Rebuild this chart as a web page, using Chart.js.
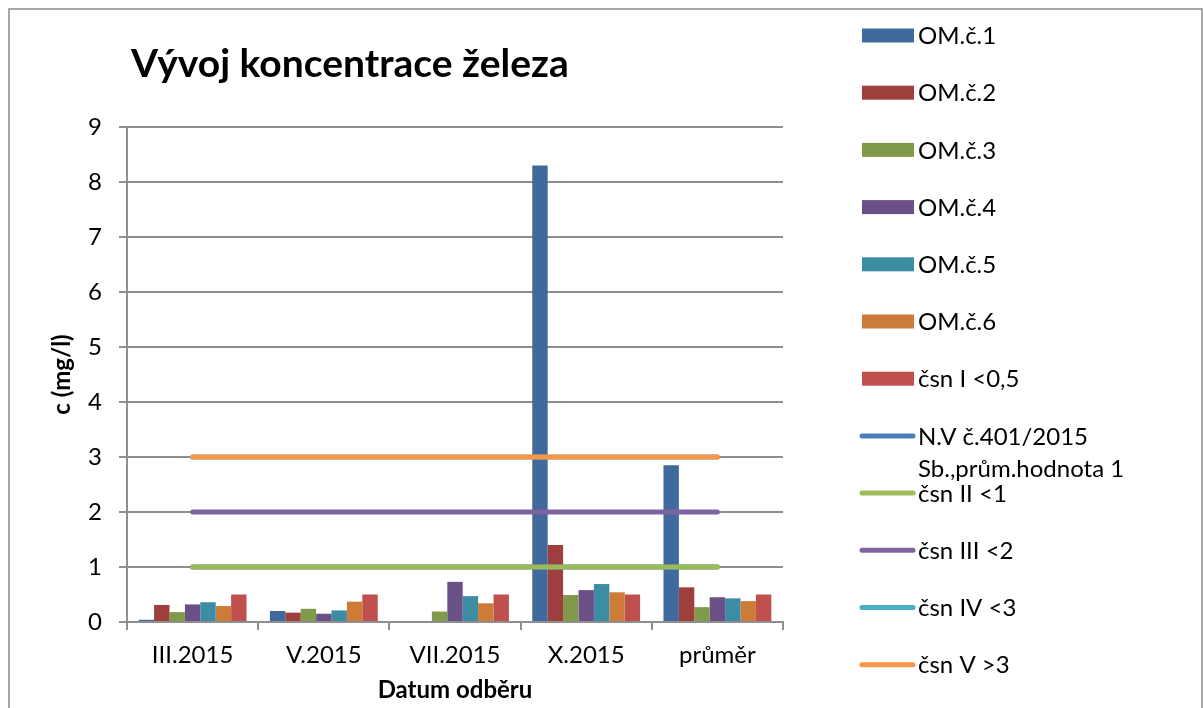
<!DOCTYPE html>
<html>
<head>
<meta charset="utf-8">
<script src="https://cdn.jsdelivr.net/npm/chart.js@4/dist/chart.umd.min.js"></script>
<style>
  html, body { margin: 0; padding: 0; background: #fff; }
  #wrap { width: 1203px; height: 708px; position: relative; }
</style>
</head>
<body>
<div id="wrap"><canvas id="myChart"></canvas></div>
<script>
// data
const categories = ['III.2015', 'V.2015', 'VII.2015', 'X.2015', 'průměr'];
const om1 = [0.04, 0.2, null, 8.3, 2.85];
const om2 = [0.31, 0.17, null, 1.4, 0.63];
const om3 = [0.18, 0.24, 0.19, 0.49, 0.27];
const om4 = [0.32, 0.15, 0.73, 0.58, 0.45];
const om5 = [0.36, 0.21, 0.47, 0.69, 0.43];
const om6 = [0.29, 0.37, 0.34, 0.54, 0.38];
const csnI = [0.5, 0.5, 0.5, 0.5, 0.5];
const nv401 = [1, 1, 1, 1, 1];
const csnII = [1, 1, 1, 1, 1];
const csnIII = [2, 2, 2, 2, 2];
const csnIV = [3, 3, 3, 3, 3];
const csnV = [3, 3, 3, 3, 3];
const yTicks = [0, 1, 2, 3, 4, 5, 6, 7, 8, 9];

const barNames = ['OM.č.1', 'OM.č.2', 'OM.č.3', 'OM.č.4', 'OM.č.5', 'OM.č.6', 'čsn I <0,5'];
const barColors = ['#3F6A9B', '#9E3F3D', '#7F9A48', '#6A5087', '#3C8DA4', '#CC7B38', '#C0504D'];
const barData = [om1, om2, om3, om4, om5, om6, csnI];

const lineNames = ['N.V č.401/2015 Sb.,prům.hodnota 1', 'čsn II <1', 'čsn III <2', 'čsn IV <3', 'čsn V >3'];
const lineColors = ['#4A7EBB', '#9BBB59', '#7F63A1', '#4BACC6', '#F79646'];
const lineData = [nv401, csnII, csnIII, csnIV, csnV];
const lineOrder = [2, 1, 1, 2, 1];

const FONT = 'Lato';
const GRID = '#8E8E8E';

let datasets = [];
for (let i = 0; i < barNames.length; i++) {
	datasets.push({
		type: 'bar',
		label: barNames[i],
		data: barData[i],
		backgroundColor: barColors[i],
		borderWidth: 0,
		categoryPercentage: 0.822,
		barPercentage: 1,
		order: 10
	});
}
for (let i = 0; i < lineNames.length; i++) {
	datasets.push({
		type: 'line',
		label: lineNames[i],
		data: lineData[i],
		borderColor: lineColors[i],
		backgroundColor: lineColors[i],
		borderWidth: 5,
		borderCapStyle: 'round',
		pointRadius: 0,
		fill: false,
		tension: 0,
		order: lineOrder[i]
	});
}

function wrapText(ctx, text, maxW) {
	let words = text.split(' ');
	let lines = [];
	let cur = '';
	for (let w of words) {
		let test = cur ? cur + ' ' + w : w;
		if (ctx.measureText(test).width > maxW && cur) {
			lines.push(cur);
			cur = w;
		} else {
			cur = test;
		}
	}
	if (cur) lines.push(cur);
	return lines;
}

// frame, title and the side legend
const decor = {
	id: 'decor',
	afterDraw(chart) {
		const ctx = chart.ctx;
		ctx.save();
		ctx.strokeStyle = '#8A8A8A';
		ctx.lineWidth = 1.5;
		ctx.strokeRect(9, 9, 1193, 720);

		ctx.fillStyle = '#000';
		ctx.font = 'bold 39px ' + FONT;
		ctx.textAlign = 'left';
		ctx.textBaseline = 'alphabetic';
		ctx.fillText('Vývoj koncentrace železa', 131, 77);

		ctx.font = '24px ' + FONT;
		ctx.textBaseline = 'middle';
		let y = 35.5;
		for (let ds of chart.data.datasets) {
			if (ds.type === 'bar') {
				ctx.fillStyle = ds.backgroundColor;
				ctx.fillRect(862, y - 7, 52, 14);
			} else {
				ctx.strokeStyle = ds.borderColor;
				ctx.lineWidth = 5;
				ctx.lineCap = 'round';
				ctx.beginPath();
				ctx.moveTo(862, y);
				ctx.lineTo(913, y);
				ctx.stroke();
			}
			ctx.fillStyle = '#000';
			let lines = wrapText(ctx, ds.label, 250);
			lines.forEach((ln, k) => ctx.fillText(ln, 918, y + 1 + k * 32));
			y += 57.2;
		}
		ctx.restore();
	}
};

const ctx = document.getElementById('myChart');
new Chart(ctx, {
	data: { labels: categories, datasets: datasets },
	plugins: [decor],
	options: {
		responsive: true,
		maintainAspectRatio: false,
		animation: false,
		layout: { padding: { left: 8, top: 127, right: 420, bottom: 0 } },
		plugins: {
			legend: { display: false },
			tooltip: { enabled: false }
		},
		scales: {
			x: {
				offset: true,
				afterFit: s => { s.height = 86; },
				grid: { display: true, offset: true, drawOnChartArea: false, drawTicks: true, tickLength: 8, color: GRID, lineWidth: 2 },
				border: { display: true, color: GRID, width: 2 },
				ticks: { color: '#000', font: { family: FONT, size: 24 }, padding: 11 },
				title: { display: true, text: 'Datum odběru', color: '#000', font: { family: FONT, size: 24, weight: 'bold' }, padding: { top: 0, bottom: 3 } }
			},
			y: {
				min: 0,
				max: 9,
				afterFit: s => { s.width = 119; },
				afterBuildTicks: s => { s.ticks = yTicks.map(v => ({ value: v })); },
				grid: { color: GRID, lineWidth: 2, tickLength: 8 },
				border: { display: true, color: GRID, width: 2 },
				ticks: { color: '#000', font: { family: FONT, size: 24 }, padding: 17 },
				title: { display: true, text: 'c (mg/l)', color: '#000', font: { family: FONT, size: 24, weight: 'bold' }, padding: { top: 40, bottom: 0 } }
			}
		}
	}
});
</script>
</body>
</html>
